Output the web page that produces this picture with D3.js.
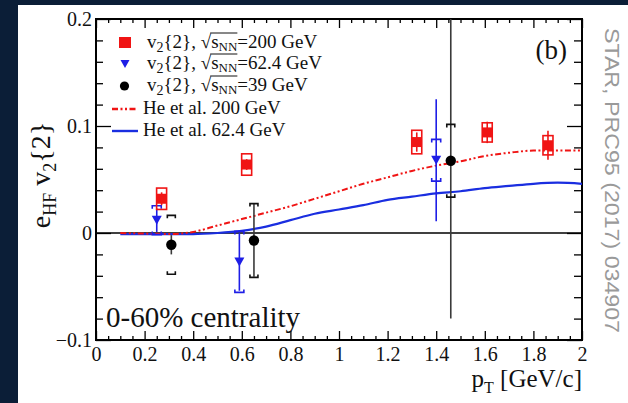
<!DOCTYPE html>
<html><head><meta charset="utf-8">
<script src="https://cdn.jsdelivr.net/npm/d3@7"></script>
<style>
html,body{margin:0;padding:0;background:#fff;}
svg{display:block;}
</style></head><body>
<svg id="chart" width="628" height="403"></svg>
<script>
// v2{2} of heavy-flavour electrons, 0-60% centrality
const pt200   = [0.27, 0.62, 1.32, 1.61, 1.86];
const v200    = [0.032, 0.064, 0.085, 0.094, 0.082];
const stat200 = [0.006, 0.005, 0.009, 0.010, 0.0135];
const sys200  = [0.010, 0.010, 0.011, 0.009, 0.009];

const pt62    = [0.25, 0.59, 1.40];
const v62     = [0.012, -0.027, 0.068];
const stat62  = [0.011, 0.027, 0.057];
const sys62   = [0.0135, 0.0285, 0.0195];

const pt39    = [0.31, 0.65, 1.46];
const v39     = [-0.011, -0.007, 0.0675];
const stat39  = [0.009, 0.034, 0.1475];
const sys39   = [0.0275, 0.0345, 0.034];

// He et al. model curves
const modelPt  = [0.1, 0.2, 0.3, 0.4, 0.5, 0.6, 0.7, 0.8, 0.9, 1.0, 1.1, 1.2, 1.3, 1.4, 1.5, 1.6, 1.7, 1.8, 1.9, 2.0];
const model200 = [0.0, -0.0005, -0.001, 0.001, 0.007, 0.013, 0.019, 0.025, 0.032, 0.039, 0.046, 0.052, 0.058, 0.063, 0.067, 0.072, 0.075, 0.077, 0.077, 0.077];
const model62  = [-0.001, -0.001, -0.001, -0.001, 0.0, 0.002, 0.006, 0.012, 0.018, 0.022, 0.026, 0.031, 0.034, 0.037, 0.039, 0.042, 0.044, 0.046, 0.047, 0.046];

const xMajor  = [0, 0.2, 0.4, 0.6, 0.8, 1.0, 1.2, 1.4, 1.6, 1.8, 2.0];
const xLabels = ["0", "0.2", "0.4", "0.6", "0.8", "1", "1.2", "1.4", "1.6", "1.8", "2"];
const yMajor  = [-0.1, 0, 0.1, 0.2];
const yLabels = ["\u22120.1", "0", "0.1", "0.2"];

const RED = "#f01414", BLUE = "#1e1ee6", BLACK = "#000";
const SERIF = "'Liberation Serif','Times New Roman',serif";

const svg = d3.select("#chart");
const L = 96, R = 582, T = 19, B = 340;
const x = d3.scaleLinear().domain([0, 2]).range([L, R]);
const y = d3.scaleLinear().domain([-0.1, 0.2]).range([B, T]);

// page frame bands
svg.append("rect").attr("x", 0).attr("y", 0).attr("width", 628).attr("height", 403).attr("fill", "#fff");
svg.append("rect").attr("x", 0).attr("y", 0).attr("width", 628).attr("height", 5).attr("fill", "#0b1e37");
svg.append("rect").attr("x", 0).attr("y", 0).attr("width", 18).attr("height", 403).attr("fill", "#0b1e37");

// axes (ticks point inward)
function ticksOnly(g) { g.select(".domain").remove(); g.selectAll("text").remove(); }
function styleTicks(g) { g.select(".domain").remove(); g.selectAll("line").attr("stroke", "#000").attr("stroke-width", 1.3); }

const xMinor = d3.range(0, 2.0001, 0.05).filter(v => Math.abs(v / 0.2 - Math.round(v / 0.2)) > 1e-6);
const yMinor = d3.range(-0.1, 0.2001, 0.02).filter(v => Math.abs(v / 0.1 - Math.round(v / 0.1)) > 1e-6);

const gxb = svg.append("g").attr("transform", `translate(0,${B})`)
  .call(d3.axisBottom(x).tickValues(xMajor).tickSize(-9).tickPadding(7).tickFormat((d, i) => xLabels[i]));
styleTicks(gxb);
gxb.selectAll("text").attr("font-family", SERIF).attr("font-size", 20).attr("fill", "#111");
svg.append("g").attr("transform", `translate(0,${B})`).call(d3.axisBottom(x).tickValues(xMinor).tickSize(-4)).call(ticksOnly).call(styleTicks);
svg.append("g").attr("transform", `translate(0,${T})`).call(d3.axisTop(x).tickValues(xMajor).tickSize(-9)).call(ticksOnly).call(styleTicks);
svg.append("g").attr("transform", `translate(0,${T})`).call(d3.axisTop(x).tickValues(xMinor).tickSize(-4)).call(ticksOnly).call(styleTicks);

const gyl = svg.append("g").attr("transform", `translate(${L},0)`)
  .call(d3.axisLeft(y).tickValues(yMajor).tickSize(-15).tickPadding(4).tickFormat((d, i) => yLabels[i]));
styleTicks(gyl);
gyl.selectAll("text").attr("font-family", SERIF).attr("font-size", 20).attr("fill", "#111");
svg.append("g").attr("transform", `translate(${L},0)`).call(d3.axisLeft(y).tickValues(yMinor).tickSize(-7)).call(ticksOnly).call(styleTicks);
svg.append("g").attr("transform", `translate(${R},0)`).call(d3.axisRight(y).tickValues(yMajor).tickSize(-15)).call(ticksOnly).call(styleTicks);
svg.append("g").attr("transform", `translate(${R},0)`).call(d3.axisRight(y).tickValues(yMinor).tickSize(-8)).call(ticksOnly).call(styleTicks);

// plot frame and zero line
svg.append("rect").attr("x", L).attr("y", T).attr("width", R - L).attr("height", B - T)
  .attr("fill", "none").attr("stroke", "#000").attr("stroke-width", 2);
svg.append("line").attr("x1", L).attr("x2", R).attr("y1", y(0)).attr("y2", y(0))
  .attr("stroke", "#000").attr("stroke-width", 1.6);

svg.append("clipPath").attr("id", "plotclip").append("rect")
  .attr("x", L).attr("y", T).attr("width", R - L).attr("height", B - T);
const plot = svg.append("g").attr("clip-path", "url(#plotclip)");

// model curves
const line = d3.line().x(d => x(d[0])).y(d => y(d[1])).curve(d3.curveMonotoneX);
plot.append("path").datum(modelPt.map((p, i) => [p, model62[i]])).attr("d", line)
  .attr("fill", "none").attr("stroke", "#1a2ee0").attr("stroke-width", 2.2);
plot.append("path").datum(modelPt.map((p, i) => [p, model200[i]])).attr("d", line)
  .attr("fill", "none").attr("stroke", RED).attr("stroke-width", 2)
  .attr("stroke-dasharray", "6,2.5,2,2.5,2,2.5");

// systematic brackets: caps pointing toward the data point
function brackets(g, px, lo, hi, col, hw) {
  const cx = x(px), yh = y(hi), yl = y(lo);
  g.append("path").attr("d", `M${cx - hw},${yh + 3}V${yh}H${cx + hw}V${yh + 3}`)
    .attr("fill", "none").attr("stroke", col).attr("stroke-width", 1.6);
  g.append("path").attr("d", `M${cx - hw},${yl - 3}V${yl}H${cx + hw}V${yl - 3}`)
    .attr("fill", "none").attr("stroke", col).attr("stroke-width", 1.6);
}

// 39 GeV
pt39.forEach((p, i) => {
  plot.append("line").attr("x1", x(p)).attr("x2", x(p))
    .attr("y1", y(v39[i] + stat39[i])).attr("y2", y(v39[i] - stat39[i]))
    .attr("stroke", "#3a3a3a").attr("stroke-width", 1.6);
  brackets(plot, p, v39[i] - sys39[i], v39[i] + sys39[i], "#111", 4);
});
// 62.4 GeV
pt62.forEach((p, i) => {
  plot.append("line").attr("x1", x(p)).attr("x2", x(p))
    .attr("y1", y(v62[i] + stat62[i])).attr("y2", y(v62[i] - stat62[i]))
    .attr("stroke", BLUE).attr("stroke-width", 1.6);
  brackets(plot, p, v62[i] - sys62[i], v62[i] + sys62[i], BLUE, 4.5);
});
// 200 GeV: systematic boxes + stat bars
pt200.forEach((p, i) => {
  plot.append("rect").attr("x", x(p) - 5).attr("width", 10)
    .attr("y", y(v200[i] + sys200[i])).attr("height", y(v200[i] - sys200[i]) - y(v200[i] + sys200[i]))
    .attr("fill", "none").attr("stroke", RED).attr("stroke-width", 1.6);
  plot.append("line").attr("x1", x(p)).attr("x2", x(p))
    .attr("y1", y(v200[i] + stat200[i])).attr("y2", y(v200[i] - stat200[i]))
    .attr("stroke", RED).attr("stroke-width", 1.6);
});

// markers
const triPath = "M-5,-4.5L5,-4.5L0,4.5Z";
plot.selectAll(".m200").data(pt200).join("rect").attr("class", "m200")
  .attr("x", d => x(d) - 5).attr("y", (d, i) => y(v200[i]) - 5).attr("width", 10).attr("height", 10).attr("fill", RED);
plot.selectAll(".m62").data(pt62).join("path").attr("class", "m62")
  .attr("d", triPath).attr("transform", (d, i) => `translate(${x(d)},${y(v62[i])})`).attr("fill", BLUE);
plot.selectAll(".m39").data(pt39).join("circle").attr("class", "m39")
  .attr("cx", d => x(d)).attr("cy", (d, i) => y(v39[i])).attr("r", 5.2).attr("fill", BLACK);

// legend
const legendEnergy = ["200", "62.4", "39"];
const legendModel = ["He et al. 200 GeV", "He et al. 62.4 GeV"];
const legRows = [48, 69, 91, 114, 136];
const LFS = 19;
const lg = svg.append("g").attr("font-family", SERIF).attr("font-size", LFS).attr("fill", "#111");
lg.append("rect").attr("x", 119).attr("y", legRows[0] - 11).attr("width", 12).attr("height", 11).attr("fill", RED);
lg.append("path").attr("d", "M-4.5,-4L4.5,-4L0,4Z").attr("transform", `translate(125,${legRows[1] - 5})`).attr("fill", BLUE);
lg.append("circle").attr("cx", 124.5).attr("cy", legRows[2] - 5).attr("r", 4.6).attr("fill", BLACK);
legendEnergy.forEach((e, i) => {
  const t = lg.append("text").attr("x", 147).attr("y", legRows[i]);
  t.append("tspan").text("v");
  t.append("tspan").attr("font-size", 14).attr("dy", 4).text("2");
  t.append("tspan").attr("dy", -4).text("{2}, \u221A");
  t.append("tspan").text("s");
  t.append("tspan").attr("font-size", 13).attr("dy", 3).text("NN");
  t.append("tspan").attr("dy", -3).text(`=${e} GeV`);
  const node = t.node();
  const root = node.getExtentOfChar(7);
  const last = node.getExtentOfChar(10);
  lg.append("line").attr("x1", root.x + root.width - 1).attr("x2", last.x + last.width)
    .attr("y1", legRows[i] - 15).attr("y2", legRows[i] - 15)
    .attr("stroke", "#111").attr("stroke-width", 1);
});
lg.append("line").attr("x1", 112).attr("x2", 138).attr("y1", legRows[3] - 5).attr("y2", legRows[3] - 5)
  .attr("stroke", RED).attr("stroke-width", 2.4).attr("stroke-dasharray", "6,2.5,2,2.5,2,2.5");
lg.append("line").attr("x1", 112).attr("x2", 138).attr("y1", legRows[4] - 5).attr("y2", legRows[4] - 5)
  .attr("stroke", "#1a2ee0").attr("stroke-width", 2.4);
legendModel.forEach((m, i) => {
  lg.append("text").attr("x", 143).attr("y", legRows[3 + i]).text(m);
});

// annotations
svg.append("text").attr("x", 567).attr("y", 59).attr("text-anchor", "end")
  .attr("font-family", SERIF).attr("font-size", 27).attr("fill", "#111").text("(b)");
svg.append("text").attr("x", 106).attr("y", 327)
  .attr("font-family", SERIF).attr("font-size", 29).attr("fill", "#111").text("0-60% centrality");

// axis titles
const xt = svg.append("text").attr("x", 582).attr("y", 387).attr("text-anchor", "end")
  .attr("font-family", SERIF).attr("font-size", 25).attr("fill", "#111");
xt.append("tspan").text("p");
xt.append("tspan").attr("font-size", 16).attr("dy", 6).text("T");
xt.append("tspan").attr("dy", -6).text(" [GeV/c]");

const yt = svg.append("text").attr("transform", "translate(50,175) rotate(-90)").attr("text-anchor", "middle")
  .attr("font-family", SERIF).attr("font-size", 28).attr("fill", "#111");
yt.append("tspan").text("e");
yt.append("tspan").attr("font-size", 18).attr("dy", 6).text("HF");
yt.append("tspan").attr("dy", -6).text(" v");
yt.append("tspan").attr("font-size", 18).attr("dy", 6).text("2");
yt.append("tspan").attr("dy", -6).text("{2}");

// reference note on the right margin
svg.append("text").attr("transform", "translate(605,28) rotate(90)")
  .attr("font-family", "'Liberation Sans',Arial,sans-serif").attr("font-size", 20)
  .attr("textLength", 305).attr("lengthAdjust", "spacingAndGlyphs")
  .attr("fill", "#9a9a9a").text("STAR, PRC95 (2017) 034907");
</script>
</body></html>
